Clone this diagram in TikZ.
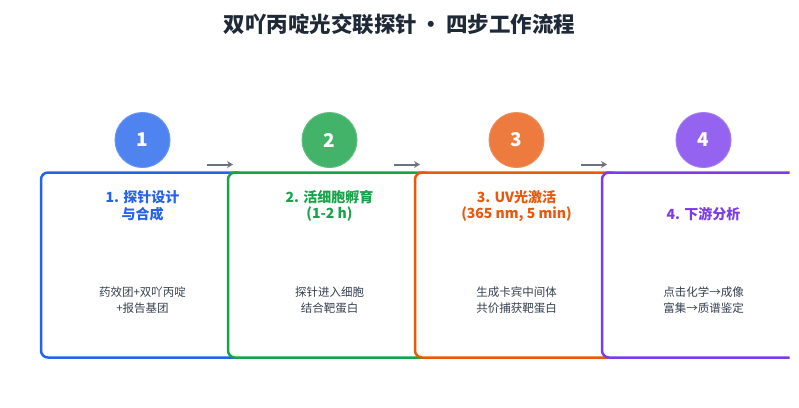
\documentclass[tikz,border=0pt]{standalone}
\usepackage{fontspec}
\setmainfont{Noto Sans CJK SC}
\usetikzlibrary{arrows.meta}
\definecolor{cblue}{HTML}{2563EB}
\definecolor{cgreen}{HTML}{16A34A}
\definecolor{corange}{HTML}{EA580C}
\definecolor{cpurple}{HTML}{7C3AED}
\definecolor{fblue}{HTML}{4F83EF}
\definecolor{fgreen}{HTML}{44B36A}
\definecolor{forange}{HTML}{ED7B3F}
\definecolor{fpurple}{HTML}{9463EF}
\definecolor{titlec}{HTML}{1F2937}
\definecolor{bodyc}{HTML}{374151}
\definecolor{arrowc}{HTML}{6B7280}
\tikzset{
  stepbox/.style={line width=2.5pt, fill=white, rounded corners=7pt},
  numcirc/.style={circle, minimum size=55pt, inner sep=0pt, text=white, font=\fontsize{19}{22}\selectfont\bfseries},
  steptitle/.style={align=center, font=\fontsize{14}{16.5}\selectfont\bfseries, inner sep=0pt},
  stepbody/.style={align=center, text=bodyc, font=\fontsize{11.5}{16}\selectfont, inner sep=0pt},
  flowarrow/.style={draw=arrowc, line width=2pt, -{Stealth[length=6pt,width=7pt]}},
}
\begin{document}
\begin{tikzpicture}[x=1pt,y=-1pt]
\fill[white] (0,0) rectangle (799,407);
\useasboundingbox (0,0) rectangle (799,407);
\node[font=\fontsize{21.5}{24}\selectfont\bfseries, text=titlec] (title) at (399.5,24) {双吖丙啶光交联探针\,•\,四步工作流程};

% boxes
\draw[stepbox, draw=cblue] (41,172.5) rectangle (244,357.5);
\draw[stepbox, draw=cgreen] (228,172.5) rectangle (431,357.5);
\draw[stepbox, draw=corange] (415,172.5) rectangle (618,357.5);
\begin{scope}
\clip (0,0) rectangle (789.5,407);
\draw[stepbox, draw=cpurple] (602,172.5) rectangle (805,357.5);
\end{scope}

% circles
\node[numcirc, fill=fblue, draw=fblue!85!white, line width=1pt] (c1) at (142.5,140) {1};
\node[numcirc, fill=fgreen, draw=fgreen!85!white, line width=1pt] (c2) at (329.5,140) {2};
\node[numcirc, fill=forange, draw=forange!85!white, line width=1pt] (c3) at (516.5,140) {3};
\node[numcirc, fill=fpurple, draw=fpurple!85!white, line width=1pt] (c4) at (703.5,140) {4};

% arrows
\coordinate (a1s) at (207,164.5); \coordinate (a1e) at (233,164.5);
\coordinate (a2s) at (394,164.5); \coordinate (a2e) at (420,164.5);
\coordinate (a3s) at (581,164.5); \coordinate (a3e) at (607,164.5);
\draw[flowarrow] (a1s) -- (a1e);
\draw[flowarrow] (a2s) -- (a2e);
\draw[flowarrow] (a3s) -- (a3e);

% titles
\node[steptitle, text=cblue] (t1) at (142.5,206) {1. 探针设计\\与合成};
\node[steptitle, text=cgreen] (t2) at (329.5,206) {2. 活细胞孵育\\(1-2 h)};
\node[steptitle, text=corange] (t3) at (516.5,206) {3. UV光激活\\(365 nm, 5 min)};
\node[steptitle, text=cpurple] (t4) at (703.5,214) {4. 下游分析};

% bodies
\node[stepbody] (b1) at (142.5,300) {药效团+双吖丙啶\\+报告基团};
\node[stepbody] (b2) at (329.5,300) {探针进入细胞\\结合靶蛋白};
\node[stepbody] (b3) at (516.5,300) {生成卡宾中间体\\共价捕获靶蛋白};
\node[stepbody] (b4) at (703.5,300) {点击化学→成像\\富集→质谱鉴定};
\end{tikzpicture}
\end{document}
